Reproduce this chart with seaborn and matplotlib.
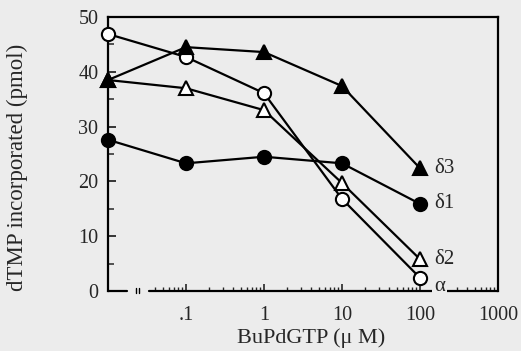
import numpy as np
import pandas as pd
import matplotlib
matplotlib.use("Agg")
import matplotlib.pyplot as plt
from matplotlib.ticker import FixedLocator, NullFormatter, FixedFormatter
import seaborn as sns

# ---- data ----
conc = [0, 0.1, 1, 10, 100]          # BuPdGTP (uM); 0 = no inhibitor
alpha_vals = [46.9, 42.7, 36.1, 16.8, 2.4]
delta2_vals = [38.5, 37.0, 33.0, 19.7, 5.8]
delta1_vals = [27.6, 23.3, 24.5, 23.3, 15.9]
delta3_vals = [38.5, 44.5, 43.6, 37.4, 22.4]
series_names = ["α", "δ2", "δ1", "δ3"]
x_ticks = [0.1, 1, 10, 100, 1000]
x_tick_labels = [".1", "1", "10", "100", "1000"]
y_ticks = [0, 10, 20, 30, 40, 50]

ZERO_POS = 0.01   # position of the zero-concentration point on the broken log axis

sns.set_theme(style="ticks")
plt.rcParams['font.family'] = ['Liberation Serif', 'DejaVu Serif']
BG = '#ececec'

fig = plt.figure(figsize=(5.21, 3.51), dpi=100, facecolor=BG)
ax = fig.add_axes([108/521, 1-291/351, 390/521, 274/351])
ax.set_facecolor(BG)
ax.set_xscale('log')
ax.set_xlim(0.01, 1000)
ax.set_ylim(0, 50)

xs = [ZERO_POS if v == 0 else v for v in conc]

series = [
    (series_names[0], alpha_vals, 'o', 'white', 3),
    (series_names[1], delta2_vals, '^', 'white', 3),
    (series_names[2], delta1_vals, 'o', 'black', 4),
    (series_names[3], delta3_vals, '^', 'black', 5),
]
label_offsets = {"α": (10, -6), "δ2": (10, 0), "δ1": (10, 0), "δ3": (10, 0)}
for name, vals, mk, face, z in series:
    df = pd.DataFrame({"x": xs, "y": vals})
    sns.lineplot(data=df, x="x", y="y", ax=ax, color='black', marker=mk,
                 markerfacecolor=face, markeredgecolor='black', markeredgewidth=1.5,
                 markersize=9.5, lw=1.6, sort=False, estimator=None,
                 clip_on=False, zorder=z)
    kw = {}
    if name == "α":
        kw = dict(bbox=dict(facecolor=BG, edgecolor='none', pad=1.5))
    ax.annotate(name, xy=(xs[-1], vals[-1]), xytext=label_offsets[name],
                textcoords='offset points', ha='left', va='center', fontsize=15,
                zorder=10, annotation_clip=False, **kw)

ax.set_xlabel("BuPdGTP (μ M)", fontsize=16)
ax.set_ylabel("dTMP incorporated (pmol)", fontsize=16.5)
ax.xaxis.set_label_coords(0.52, -0.135)
ax.yaxis.set_label_coords(-0.205, 0.45)

# spines: box, with broken bottom axis drawn by hand
for s in ['left', 'top', 'right']:
    ax.spines[s].set_linewidth(1.6)
    ax.spines[s].set_color('black')
ax.spines['bottom'].set_visible(False)
tr = ax.get_xaxis_transform()
lw_ax = 1.6
ax.plot([0.01, 0.0174], [0, 0], transform=tr, color='black', lw=lw_ax, clip_on=False, zorder=6)
ax.plot([0.0336, 1000], [0, 0], transform=tr, color='black', lw=lw_ax, clip_on=False, zorder=6)
for bx in [10**(-2 + 28/78), 10**(-2 + 31/78)]:
    ax.plot([bx, bx], [-0.008, 0.012], transform=tr, color='black', lw=1.0, clip_on=False)

# ticks
ax.xaxis.set_major_locator(FixedLocator(x_ticks))
ax.xaxis.set_major_formatter(FixedFormatter(x_tick_labels))
minor = [m * d for d in [0.01, 0.1, 1, 10, 100] for m in range(2, 10) if m * d > 0.035]
ax.xaxis.set_minor_locator(FixedLocator(minor))
ax.xaxis.set_minor_formatter(NullFormatter())
ax.set_yticks(y_ticks)
ax.yaxis.set_minor_locator(FixedLocator([5, 15, 25, 35, 45]))
ax.tick_params(axis='x', which='major', direction='in', length=5, width=1.2, pad=11,
               labelsize=14.5, bottom=True, top=False)
ax.tick_params(axis='x', which='minor', direction='in', length=3, width=1.0,
               bottom=True, top=False)
ax.tick_params(axis='y', which='major', direction='in', length=6, width=1.3, pad=7,
               labelsize=14.5, left=True, right=False)
ax.tick_params(axis='y', which='minor', direction='in', length=4, width=1.1,
               left=True, right=False)

fig.savefig("out.png", dpi=100, facecolor=BG)
